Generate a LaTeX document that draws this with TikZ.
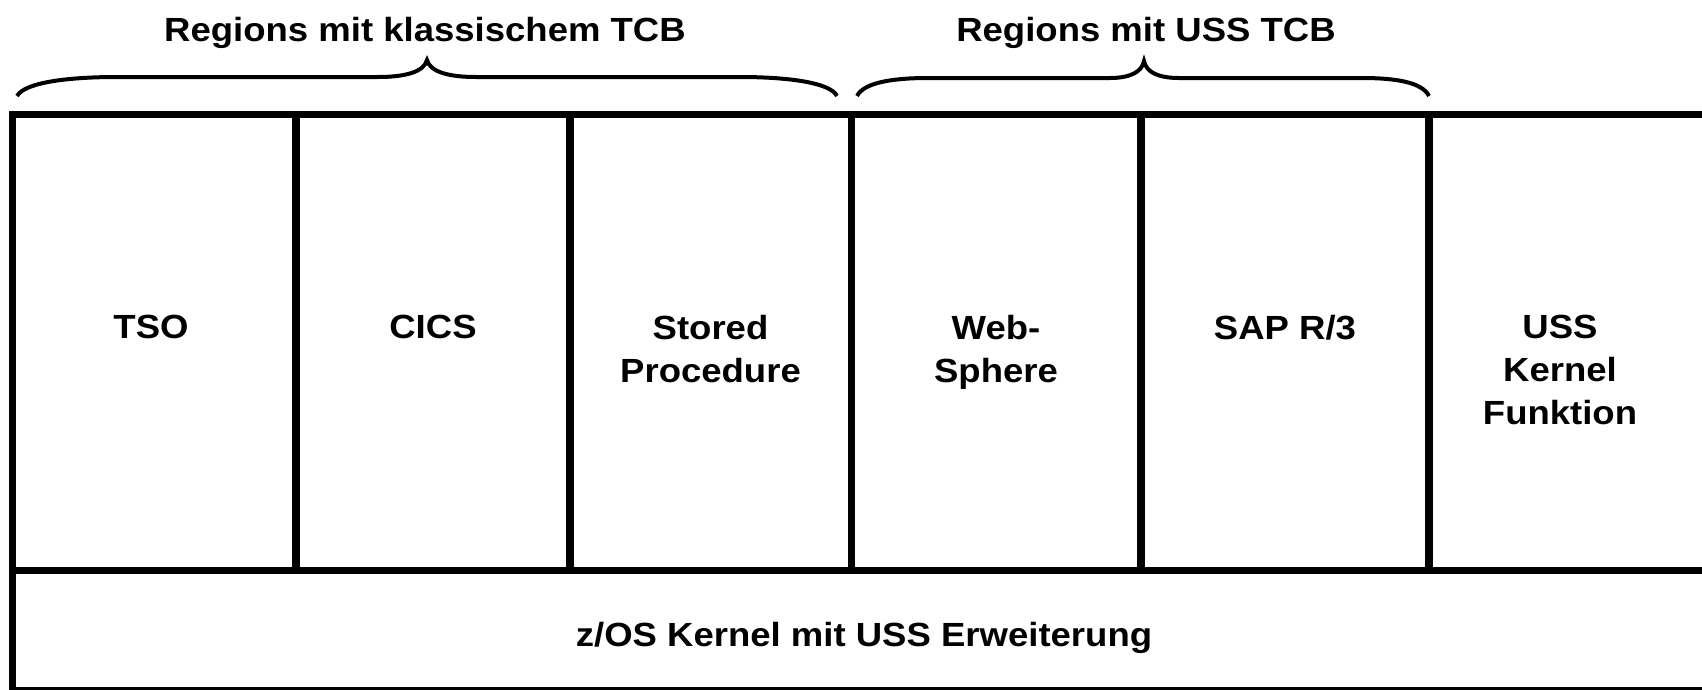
\documentclass[tikz,border=0pt]{standalone}
\usepackage{fontspec}
\setmainfont[FakeStretch=1.09]{Liberation Sans}
\begin{document}
\begin{tikzpicture}[x=1pt,y=-1pt,
  cellbox/.style={draw, line width=7.5pt, inner sep=0pt, outer sep=0pt, anchor=north west},
  lbl/.style={inner sep=0pt, align=center, anchor=north, font=\fontsize{33.5pt}{43pt}\selectfont\bfseries},
  ttl/.style={inner sep=0pt, anchor=base, font=\fontsize{33.5pt}{43pt}\selectfont\bfseries},
  bracestroke/.style={line width=4pt}]
\useasboundingbox (0,0) rectangle (1702,689);
% cells
\node[cellbox, minimum width=283.5pt, minimum height=456pt] (tso) at (12.5,114.5) {};
\node[cellbox, minimum width=274pt, minimum height=456pt] (cics) at (296,114.5) {};
\node[cellbox, minimum width=281.5pt, minimum height=456pt] (sp) at (570,114.5) {};
\node[cellbox, minimum width=289.5pt, minimum height=456pt] (ws) at (851.5,114.5) {};
\node[cellbox, minimum width=288pt, minimum height=456pt] (sap) at (1141,114.5) {};
\node[cellbox, minimum width=291pt, minimum height=456pt] (uss) at (1429,114.5) {};
\node[cellbox, minimum width=1707.5pt, minimum height=120.5pt] (kern) at (12.5,570.5) {};
% labels
\node[lbl] (tsot) at (151,315) {TSO};
\node[lbl] (cicst) at (433,315) {CICS};
\node[lbl] (spt) at (710.5,315) {Stored\\Procedure};
\node[lbl] (wst) at (996,315) {Web-\\Sphere};
\node[lbl] (sapt) at (1285,315) {SAP R/3};
\node[lbl] (usst) at (1560,315) {USS\\Kernel\\Funktion};
\node[ttl] (kernt) at (864,646) {z/OS Kernel mit USS Erweiterung};
% titles
\node[ttl] (t1) at (425,41) {Regions mit klassischem TCB};
\node[ttl] (t2) at (1146,41) {Regions mit USS TCB};
% braces
\draw[bracestroke] (17,96) .. controls (25,82) and (70,77) .. (117,77) -- (378,77)
  .. controls (405,77) and (424,72) .. (427,60)
  .. controls (430,72) and (449,77) .. (476,77) -- (740,77)
  .. controls (785,77) and (830,82) .. (837,96);
\draw[bracestroke] (857,96) .. controls (864,82) and (895,78) .. (928,78) -- (1110,78)
  .. controls (1130,78) and (1142,72) .. (1144,61)
  .. controls (1146,72) and (1158,78) .. (1179,78) -- (1362,78)
  .. controls (1395,78) and (1422,82) .. (1429,96);
\end{tikzpicture}
\end{document}
